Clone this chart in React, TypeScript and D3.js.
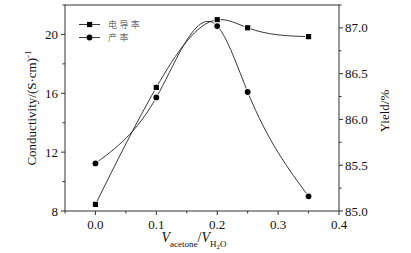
import React from "react";
import * as d3 from "d3";

const xValues = [0, 0.1, 0.2, 0.25, 0.35];
const conductivity = [8.45, 16.4, 21.0, 20.45, 19.85];
const yieldValues = [85.52, 86.24, 87.02, 86.3, 85.16];
const xTicks = [0, 0.1, 0.2, 0.3, 0.4];
const leftTicks = [8, 12, 16, 20];
const rightTicks = [85.0, 85.5, 86.0, 86.5, 87.0];
const legendLabels = ["电导率", "产率"];

const W = 411, H = 253;
const L = 65, R = 339, T = 5, B = 211;
const serif = "'Liberation Serif', 'Times New Roman', serif";

// Natural cubic spline y(x) through the points, drawn exactly as cubic Bezier segments.
function splinePath(xs: number[], ys: number[], sx: (v: number) => number, sy: (v: number) => number) {
  const n = xs.length;
  const h: number[] = [], d: number[] = [];
  for (let i = 0; i < n - 1; i++) {
    h.push(xs[i + 1] - xs[i]);
    d.push((ys[i + 1] - ys[i]) / h[i]);
  }
  const m = n - 2;
  const a: number[] = [], b: number[] = [], c: number[] = [], r: number[] = [];
  for (let i = 1; i <= m; i++) {
    a.push(h[i - 1]);
    b.push(2 * (h[i - 1] + h[i]));
    c.push(h[i]);
    r.push(6 * (d[i] - d[i - 1]));
  }
  for (let i = 1; i < m; i++) {
    const w = a[i] / b[i - 1];
    b[i] -= w * c[i - 1];
    r[i] -= w * r[i - 1];
  }
  const Min: number[] = new Array(m).fill(0);
  for (let i = m - 1; i >= 0; i--) {
    Min[i] = (r[i] - (i < m - 1 ? c[i] * Min[i + 1] : 0)) / b[i];
  }
  const M = [0, ...Min, 0];
  const p = d3.path();
  p.moveTo(sx(xs[0]), sy(ys[0]));
  for (let i = 0; i < n - 1; i++) {
    const s0 = d[i] - (h[i] * (2 * M[i] + M[i + 1])) / 6;
    const s1 = d[i] + (h[i] * (M[i] + 2 * M[i + 1])) / 6;
    const x1 = xs[i] + h[i] / 3, y1 = ys[i] + (s0 * h[i]) / 3;
    const x2 = xs[i + 1] - h[i] / 3, y2 = ys[i + 1] - (s1 * h[i]) / 3;
    p.bezierCurveTo(sx(x1), sy(y1), sx(x2), sy(y2), sx(xs[i + 1]), sy(ys[i + 1]));
  }
  return p.toString();
}

export default function App() {
  const x = d3.scaleLinear().domain([-0.05, 0.4]).range([L, R]);
  const yL = d3.scaleLinear().domain([8, 22]).range([B, T]);
  const yR = d3.scaleLinear().domain([85, 87.25]).range([B, T]);

  const xMinor = d3.range(-0.05, 0.4001, 0.05).filter(v => !xTicks.some(t => Math.abs(t - v) < 1e-6));
  const lMinor = d3.range(10, 22.01, 4);
  const rMinor = d3.range(85.25, 87.26, 0.5);

  const stroke = "#222";
  const legendY0 = 24.5, legendStep = 13;
  return (
    <svg width={W} height={H} style={{ position: "absolute", left: 0, top: 0, background: "#fff" }}
      fontFamily={serif}>
      <rect x={0} y={0} width={W} height={H} fill="#fff" />
      <path d={splinePath(xValues, conductivity, x, yL)} fill="none" stroke={stroke} strokeWidth={0.9} />
      <path d={splinePath(xValues, yieldValues, x, yR)} fill="none" stroke={stroke} strokeWidth={0.9} />
      {conductivity.map((v, i) => (
        <rect key={"s" + i} x={x(xValues[i]) - 2.6} y={yL(v) - 2.6} width={5.2} height={5.2}
          fill="#000" stroke="#fff" strokeWidth={1.6} paintOrder="stroke" />
      ))}
      {yieldValues.map((v, i) => (
        <circle key={"c" + i} cx={x(xValues[i])} cy={yR(v)} r={2.9}
          fill="#000" stroke="#fff" strokeWidth={1.6} paintOrder="stroke" />
      ))}
      {/* frame */}
      <rect x={L} y={T} width={R - L} height={B - T} fill="none" stroke="#333" strokeWidth={1} />
      {/* x axis ticks */}
      {xTicks.map(t => (
        <g key={"xt" + t}>
          <line x1={x(t)} x2={x(t)} y1={B} y2={B + 4} stroke="#333" />
          <text x={x(t)} y={229} fontSize={13} textAnchor="middle" fill="#111">{t.toFixed(1)}</text>
        </g>
      ))}
      {xMinor.map(t => (
        <line key={"xm" + t} x1={x(t)} x2={x(t)} y1={B} y2={B + 2.5} stroke="#333" />
      ))}
      {/* left axis */}
      {leftTicks.map(t => (
        <g key={"lt" + t}>
          <line x1={L - 4} x2={L} y1={yL(t)} y2={yL(t)} stroke="#333" />
          <text x={L - 7} y={yL(t) + 4.5} fontSize={13} textAnchor="end" fill="#111">{t}</text>
        </g>
      ))}
      {lMinor.map(t => (
        <line key={"lm" + t} x1={L - 2.5} x2={L} y1={yL(t)} y2={yL(t)} stroke="#333" />
      ))}
      {/* right axis */}
      {rightTicks.map(t => (
        <g key={"rt" + t}>
          <line x1={R} x2={R + 4} y1={yR(t)} y2={yR(t)} stroke="#333" />
          <text x={R + 6} y={yR(t) + 4.5} fontSize={13} textAnchor="start" fill="#111">{t.toFixed(1)}</text>
        </g>
      ))}
      {rMinor.map(t => (
        <line key={"rm" + t} x1={R} x2={R + 2.5} y1={yR(t)} y2={yR(t)} stroke="#333" />
      ))}
      {/* axis titles */}
      <text transform={`translate(36,${(T + B) / 2}) rotate(-90)`} fontSize={13} textAnchor="middle" fill="#111">
        Conductivity/(S·cm)<tspan fontSize={9} dy={-5}>-1</tspan>
      </text>
      <text transform={`translate(389,${(T + B) / 2 + 3}) rotate(-90)`} fontSize={13} textAnchor="middle" fill="#111">
        Yield/%
      </text>
      <text x={194} y={242} fontSize={14} textAnchor="middle" fill="#111">
        <tspan fontStyle="italic">V</tspan>
        <tspan fontSize={9} dy={5}>acetone</tspan>
        <tspan dy={-5}>/</tspan>
        <tspan fontStyle="italic">V</tspan>
        <tspan fontSize={9} dy={5}>H</tspan>
        <tspan fontSize={7} dy={2}>2</tspan>
        <tspan fontSize={9} dy={-2}>O</tspan>
      </text>
      {/* legend */}
      {legendLabels.map((lab, i) => {
        const ly = legendY0 + i * legendStep;
        return (
          <g key={"lg" + i}>
            <line x1={79} x2={100} y1={ly} y2={ly} stroke={stroke} strokeWidth={0.9} />
            {i === 0 ? (
              <rect x={87} y={ly - 2.6} width={5.2} height={5.2} fill="#000" />
            ) : (
              <circle cx={89.5} cy={ly} r={2.9} fill="#000" />
            )}
            <text x={108} y={ly + 3.4} fontSize={9} letterSpacing={2.4} fill="#333"
              fontFamily="'Noto Sans CJK SC', sans-serif" fontWeight={300}>{lab}</text>
          </g>
        );
      })}
    </svg>
  );
}
